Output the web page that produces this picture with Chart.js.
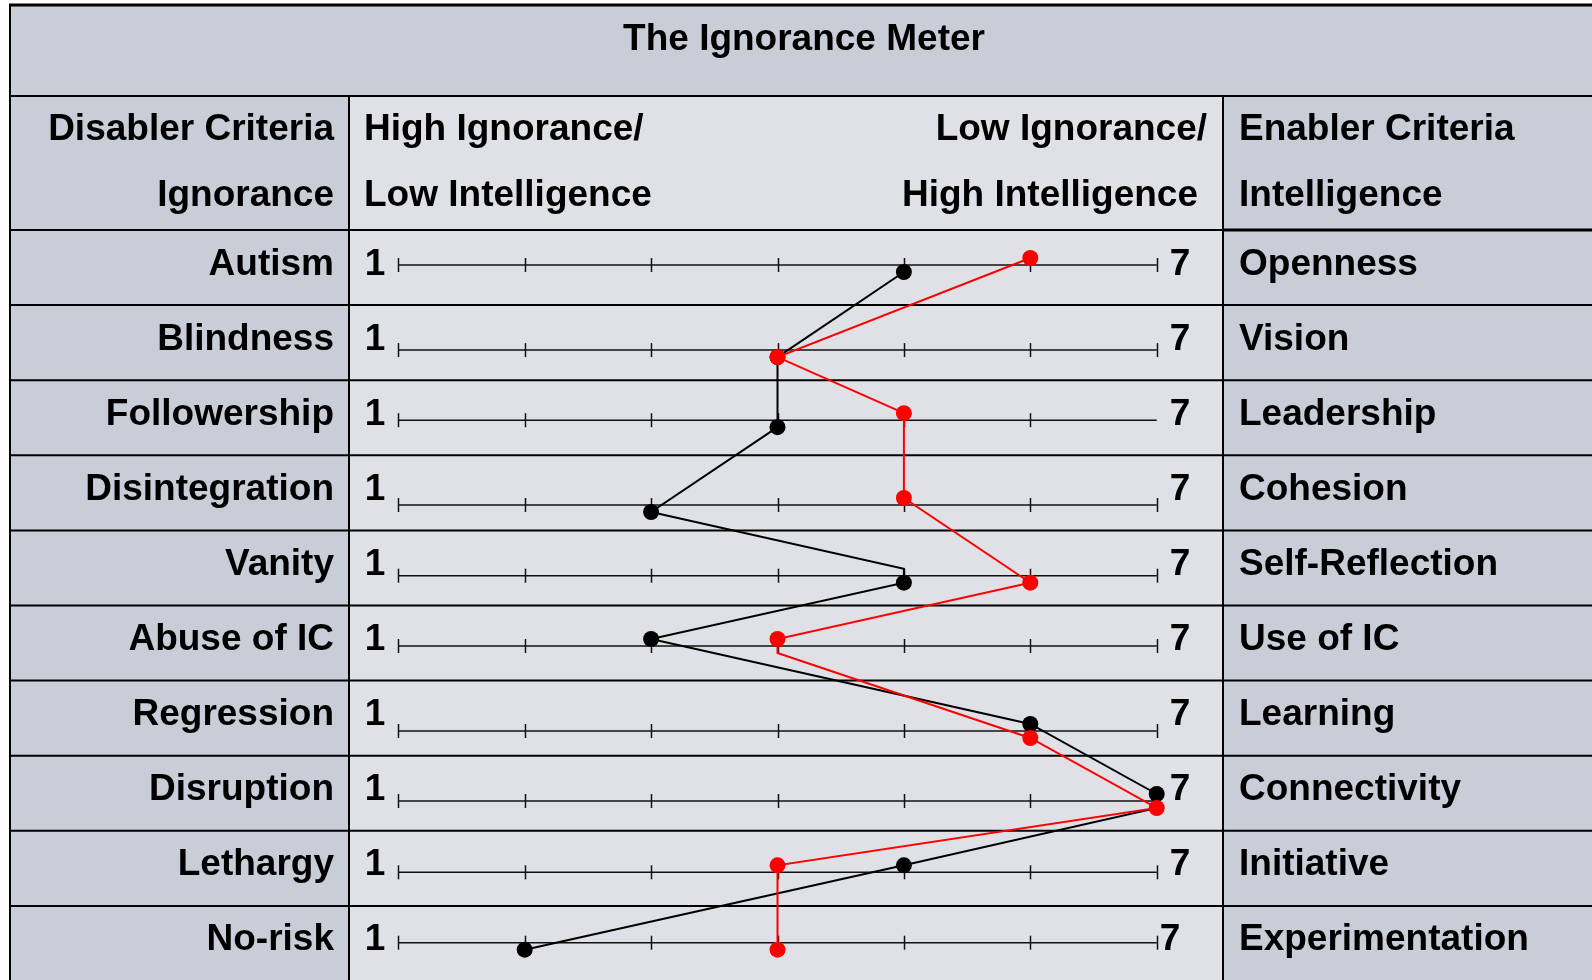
<!DOCTYPE html>
<html><head><meta charset="utf-8">
<script src="https://cdn.jsdelivr.net/npm/chart.js@4.4.1/dist/chart.umd.min.js"></script>
<style>html,body{margin:0;padding:0;background:#fff;}canvas{display:block;}</style>
</head><body>
<canvas id="c" width="1592" height="980"></canvas>
<script>
// ---------- data ----------
const chartTitle = 'The Ignorance Meter';
const disablerHeader = ['Disabler Criteria', 'Ignorance'];
const lowEndHeader = ['High Ignorance/', 'Low Intelligence'];
const highEndHeader = ['Low Ignorance/', 'High Intelligence'];
const enablerHeader = ['Enabler Criteria', 'Intelligence'];
const disablers = ['Autism','Blindness','Followership','Disintegration','Vanity','Abuse of IC','Regression','Disruption','Lethargy','No-risk'];
const enablers = ['Openness','Vision','Leadership','Cohesion','Self-Reflection','Use of IC','Learning','Connectivity','Initiative','Experimentation'];
const scaleTicks = [1,2,3,4,5,6,7];
const blackScores = [5,4,4,3,5,3,6,7,5,2];
const redScores   = [6,4,5,5,6,4,6,7,4,4];

// ---------- layout (not data) ----------
const W = 1592, H = 980;
const ROW_TOP_PX = 230, ROW_H_PX = 75.1;
const X1_PX = 398.3, XSTEP_PX = 126.4;
const xMin = 1 - X1_PX / XSTEP_PX, xMax = 1 + (W - X1_PX) / XSTEP_PX;
const yMin = -ROW_TOP_PX / ROW_H_PX, yMax = (H - ROW_TOP_PX) / ROW_H_PX;
const lineOffsetPx = [35, 45, 40, 49.7, 45.3, 40.5, 50.4, 45.3, 41.5, 36.8];
const blackSide = [1,1,1,1,1,-1,-1,-1,-1,1];   // dot below (+1) / above (-1) the row line
const redSide   = [-1,1,-1,-1,1,-1,1,1,-1,1];
const blackBends = {4:'before', 7:'after'};
const redBends = {5:'after'};
const DOT_SHIFT_PX = 7, DOT_R = 8;
const noEndTickRows = [2];
const sevenShiftPx = [13,13,13,13,13,13,13,13,13,3];
const DARK = '#c9cdd8', LIGHT = '#e0e1e6';
const FONT = 'bold 37px "Liberation Sans", Arial, Helvetica, sans-serif';

function rowLineY(i){ return i + lineOffsetPx[i] / ROW_H_PX; }
function dotY(i, side){ return rowLineY(i) + side * DOT_SHIFT_PX / ROW_H_PX; }
function buildPath(scores, sides, bends){
  const pts = [], radii = [];
  scores.forEach((s, i) => {
    const b = bends[i];
    if (b === 'before'){ pts.push({x:s, y:dotY(i, -sides[i])}); radii.push(0); }
    pts.push({x:s, y:dotY(i, sides[i])}); radii.push(DOT_R);
    if (b === 'after'){ pts.push({x:s, y:dotY(i, -sides[i])}); radii.push(0); }
  });
  return {pts, radii};
}
const blackPath = buildPath(blackScores, blackSide, blackBends);
const redPath = buildPath(redScores, redSide, redBends);

const tablePlugin = {
  id: 'table',
  beforeDatasetsDraw(chart){
    const ctx = chart.ctx, xs = chart.scales.x, ys = chart.scales.y;
    const L = 10, C1 = 349, C2 = 1223, TOP = 5, HDR = 96;
    const rowTop = i => ys.getPixelForValue(i);
    ctx.save();
    ctx.fillStyle = '#ffffff'; ctx.fillRect(0, 0, W, H);
    ctx.fillStyle = DARK; ctx.fillRect(L, TOP, W - L, H - TOP);
    ctx.fillStyle = LIGHT; ctx.fillRect(C1, HDR, C2 - C1, H - HDR);

    // borders
    ctx.strokeStyle = '#000';
    function hline(y, x0, x1, w){ ctx.lineWidth = w; ctx.beginPath(); ctx.moveTo(x0, y); ctx.lineTo(x1, y); ctx.stroke(); }
    function vline(x, y0, y1, w){ ctx.lineWidth = w; ctx.beginPath(); ctx.moveTo(x, y0); ctx.lineTo(x, y1); ctx.stroke(); }
    hline(TOP, L - 1, W, 3);
    hline(HDR, L, W, 2);
    vline(L, TOP, H, 2);
    vline(C1, HDR, H, 2);
    vline(C2, HDR, H, 2);
    for (let i = 0; i < disablers.length; i++){
      const y = rowTop(i);
      hline(y, L, C2, 2);
      hline(y, C2, W, i === 0 ? 3 : 2);
    }

    // texts
    ctx.fillStyle = '#000';
    ctx.font = FONT;
    ctx.textBaseline = 'alphabetic';
    ctx.textAlign = 'center';
    ctx.fillText(chartTitle, 804, 50);
    const hb = [140, 206];
    ctx.textAlign = 'right';
    hb.forEach((b, k) => ctx.fillText(disablerHeader[k], 334, b));
    ctx.textAlign = 'left';
    hb.forEach((b, k) => ctx.fillText(lowEndHeader[k], 364, b));
    ctx.textAlign = 'right';
    ctx.fillText(highEndHeader[0], 1207, hb[0]);
    ctx.fillText(highEndHeader[1], 1198, hb[1]);
    ctx.textAlign = 'left';
    hb.forEach((b, k) => ctx.fillText(enablerHeader[k], 1239, b));

    const p1 = xs.getPixelForValue(scaleTicks[0]);
    const p7 = xs.getPixelForValue(scaleTicks[scaleTicks.length - 1]);
    for (let i = 0; i < disablers.length; i++){
      const base = rowTop(i) + 44.5;
      ctx.textAlign = 'right'; ctx.fillText(disablers[i], 334, base);
      ctx.textAlign = 'left';
      ctx.fillText(String(scaleTicks[0]), p1 - 33.5, base);
      ctx.fillText(String(scaleTicks[scaleTicks.length - 1]), p7 + sevenShiftPx[i], base);
      ctx.fillText(enablers[i], 1239, base);

      // meter line + ticks
      const ly = ys.getPixelForValue(rowLineY(i));
      ctx.strokeStyle = '#111';
      ctx.lineWidth = 1.5;
      ctx.beginPath(); ctx.moveTo(p1, ly); ctx.lineTo(p7, ly); ctx.stroke();
      scaleTicks.forEach((t, k) => {
        if (k === scaleTicks.length - 1 && noEndTickRows.includes(i)) return;
        const tx = Math.round(xs.getPixelForValue(t)) + 0.5;
        ctx.beginPath(); ctx.moveTo(tx, ly - DOT_SHIFT_PX); ctx.lineTo(tx, ly + DOT_SHIFT_PX); ctx.stroke();
      });
    }
    ctx.restore();
  }
};

new Chart(document.getElementById('c'), {
  type: 'scatter',
  data: {
    datasets: [
      { label: 'Red', data: redPath.pts, showLine: true, borderColor: '#ff0000', backgroundColor: '#ff0000',
        borderWidth: 2, pointRadius: redPath.radii, pointBorderWidth: 0, pointBackgroundColor: '#ff0000', tension: 0, order: 0, clip: false },
      { label: 'Black', data: blackPath.pts, showLine: true, borderColor: '#000000', backgroundColor: '#000000',
        borderWidth: 2, pointRadius: blackPath.radii, pointBorderWidth: 0, pointBackgroundColor: '#000000', tension: 0, order: 1, clip: false }
    ]
  },
  options: {
    responsive: false,
    devicePixelRatio: 1,
    animation: false,
    layout: { padding: 0, autoPadding: false },
    plugins: { legend: { display: false }, tooltip: { enabled: false } },
    scales: {
      x: { type: 'linear', min: xMin, max: xMax, display: false },
      y: { type: 'linear', min: yMin, max: yMax, reverse: true, display: false }
    }
  },
  plugins: [tablePlugin]
});
</script>
</body></html>
